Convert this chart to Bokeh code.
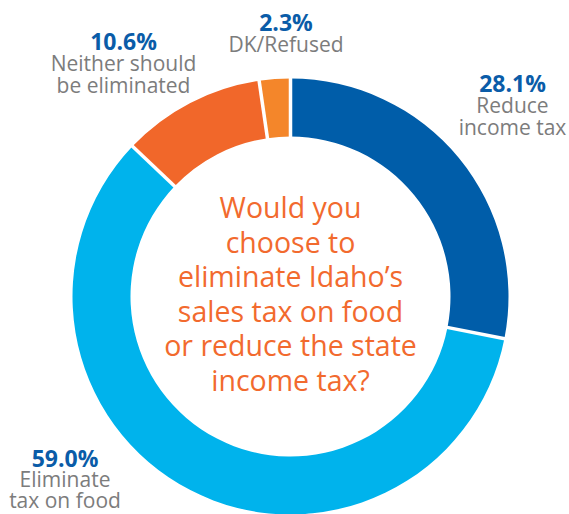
import math
from bokeh.plotting import figure
from bokeh.models import Range1d, ColumnDataSource
from bokeh.core.properties import value
from bokeh.embed import file_html
from bokeh.resources import INLINE

# ---- data ----
categories = ["Reduce income tax", "Eliminate tax on food", "Neither should be eliminated", "DK/Refused"]
label_lines = [["Reduce", "income tax"], ["Eliminate", "tax on food"], ["Neither should", "be eliminated"], ["DK/Refused"]]
values = [28.1, 59.0, 10.6, 2.3]
colors = ["#005DA9", "#00B3EC", "#F1672A", "#F4862A"]
question = ["Would you", "choose to", "eliminate Idaho\u2019s", "sales tax on food", "or reduce the state", "income tax?"]

# ---- layout (picture pixel coordinates; y downwards, stored as -y) ----
W, H = 569, 514
CX, CY = 290.0, 296.0
R_OUT, R_IN = 218.0, 160.0
label_anchor = [(512, 89), (64.5, 464), (123, 47), (285.5, 28.3)]  # baseline of percent text
label_gap = [21.8, 21.0, 21.8, 21.8]
Q_TOP, Q_STEP = 215.0, 34.6
DY = 0.3  # rendered baseline sits ~0.3em below the anchor; compensate

FONT = value("Open Sans")
BLUE_TXT = "#0A5CA8"
GRAY_TXT = "#7C7C7C"
ORANGE_TXT = "#F26A2E"
FS_PCT, FS_LBL, FS_Q = 23, 21, 28.5

p = figure(width=W, height=H, output_backend="svg", toolbar_location=None,
           x_range=Range1d(0, W), y_range=Range1d(-H, 0), min_border=0)
p.axis.visible = False
p.grid.visible = False
p.outline_line_color = None
p.background_fill_color = "white"
p.border_fill_color = "white"

# slices: start at 12 o'clock, clockwise
total = sum(values)
starts, ends = [], []
cum = 0.0
for v in values:
    starts.append(math.pi / 2 - (cum + v) / total * 2 * math.pi)
    ends.append(math.pi / 2 - cum / total * 2 * math.pi)
    cum += v

src = ColumnDataSource(dict(x=[CX] * len(values), y=[-CY] * len(values),
                            start=starts, end=ends, color=colors, cat=categories))
p.annular_wedge(x="x", y="y", inner_radius=R_IN, outer_radius=R_OUT,
                start_angle="start", end_angle="end", color="color",
                line_color=None, source=src)

# white separators at slice boundaries
bx0, by0, bx1, by1 = [], [], [], []
for a in ends:
    bx0.append(CX + (R_IN - 3) * math.cos(a))
    by0.append(-CY + (R_IN - 3) * math.sin(a))
    bx1.append(CX + (R_OUT + 3) * math.cos(a))
    by1.append(-CY + (R_OUT + 3) * math.sin(a))
p.segment(x0=bx0, y0=by0, x1=bx1, y1=by1, line_color="white", line_width=3.5)


def put(x, base, txt, size, color, bold=False):
    p.text(x=[x], y=[-(base - DY * size)], text=[txt], text_align="center",
           text_baseline="alphabetic", text_font=FONT,
           text_font_style="bold" if bold else "normal",
           text_font_size=f"{size}px", text_color=color)


for v, lines, (lx, ly), gap in zip(values, label_lines, label_anchor, label_gap):
    put(lx, ly, f"{v:.1f}%", FS_PCT, BLUE_TXT, bold=True)
    for i, t in enumerate(lines):
        put(lx, ly + gap * (i + 1), t, FS_LBL, GRAY_TXT)

for i, t in enumerate(question):
    put(CX, Q_TOP + Q_STEP * i, t, FS_Q, ORANGE_TXT)

open("out.html", "w").write(file_html(p, INLINE))
